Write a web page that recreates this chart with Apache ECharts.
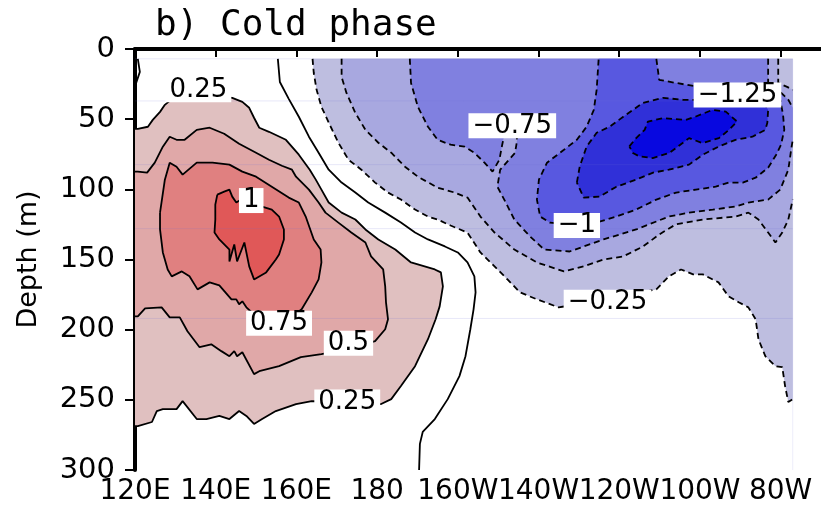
<!DOCTYPE html>
<html><head><meta charset="utf-8">
<script src="https://cdn.jsdelivr.net/npm/echarts@6/dist/echarts.min.js"></script>
<style>html,body{margin:0;padding:0;background:#fff}#c{width:821px;height:508px}</style>
</head><body><div id="c"></div>
<script>
// ---- axes ----
const lonTicks = [120,140,160,180,200,220,240,260,280];
const depthTicks = [0,50,100,150,200,250,300];
const titleText = 'b) Cold phase';
const yName = 'Depth (m)';
const dataTop = 7, dataRight = 283, dataBottom = 300;
const rowDepths = [7, 37, 82.4, 128, 192];

// ---- contours (lon in degrees east, depth in m) ----
const zeroA = [[155.4,7],[155.9,23.5],[158.1,35.5],[160.6,48.3],[163.1,62.5],[165.5,73.9],[168.0,86.0],[171.2,95.2],[174.6,102.3],[177.8,109.4],[182.0,116.6],[185.9,123.7],[189.4,130.8],[192.6,135.7],[196.8,140.7],[200.0,145.0],[202.4,152.1],[204.1,162.0],[204.4,173.4],[203.9,185.5],[203.1,199.7],[201.9,218.9],[200.4,233.1],[197.5,249.5],[194.3,263.7],[191.3,272.9],[190.6,281.4],[190.4,300]];
const zeroB = [[120.7,7],[121.2,16.3],[120.2,24.9],[120,26.3]];
const pos025 = [[120,56.9],[120.7,56.9],[123.2,55.4],[124.4,50.5],[126.2,44.8],[127.4,39.8],[128.6,37.0],[136.0,32.7],[144.1,34.8],[146.6,37.7],[148.3,41.9],[149.5,49.0],[150.8,56.1],[153.2,59.0],[157.4,64.7],[160.6,75.3],[163.3,86.0],[164.8,93.1],[166.2,100.2],[168.0,109.4],[171.2,116.6],[174.6,121.5],[177.1,128.6],[180.3,135.7],[184.5,142.9],[188.4,152.1],[194.3,157.1],[195.8,159.2],[196.3,169.1],[195.5,183.4],[194.5,192.6],[192.6,206.8],[189.4,226.0],[185.9,240.2],[183.5,249.5],[181.0,253.0],[172.9,251.6],[163.8,250.9],[159.9,253.0],[154.9,258.0],[151.5,263.7],[149.5,267.2],[147.6,261.5],[145.8,258.0],[143.4,263.7],[140.9,261.5],[137.7,263.7],[135.3,263.7],[131.8,250.9],[130.3,256.6],[126.9,256.6],[125.4,258.0],[124.2,265.8],[120.7,268.7],[120,268.7]];
const pos050 = [[120,87.4],[120.7,87.4],[123.0,88.1],[124.9,81.0],[126.9,69.6],[128.6,62.5],[130.3,64.7],[132.3,64.7],[135.3,57.6],[138.5,56.1],[142.1,60.4],[145.8,67.5],[150.0,73.9],[153.2,78.9],[156.4,83.2],[158.9,86.0],[159.9,91.0],[163.1,100.2],[165.5,109.4],[167.2,116.6],[170.4,123.7],[173.6,130.8],[177.1,137.9],[178.5,147.8],[181.5,157.1],[182.0,169.1],[182.2,180.5],[182.7,192.6],[182.0,199.7],[179.5,208.2],[172.9,213.9],[166.2,217.5],[161.1,219.6],[155.7,226.0],[150.8,229.6],[149.5,231.7],[146.6,216.1],[145.3,218.9],[144.6,215.3],[143.4,218.9],[141.4,215.3],[138.9,210.4],[136.0,212.5],[133.0,201.1],[131.1,191.2],[128.6,191.2],[126.6,184.1],[122.5,184.8],[120.7,190.5],[120,190.5]];
const pos075 = [[126.2,116.6],[127.4,93.1],[128.6,81.0],[130.3,83.9],[131.8,89.5],[135.3,81.0],[139.2,81.0],[143.4,82.4],[146.6,87.4],[150.0,91.0],[153.9,98.1],[158.1,105.9],[160.6,109.4],[162.3,119.4],[164.3,135.7],[166.0,142.9],[166.2,152.1],[165.5,164.2],[163.8,173.4],[161.3,185.5],[158.1,192.6],[150.8,192.6],[147.6,184.1],[146.6,179.8],[145.8,181.9],[145.1,178.4],[143.9,178.4],[140.9,168.4],[138.5,166.3],[135.5,171.3],[133.5,162.0],[131.6,158.5],[129.1,162.0],[128.1,157.1],[126.9,145.0],[126.2,128.6]];
const pos100 = [[140.4,103.8],[142.1,101.6],[143.4,100.2],[144.1,105.2],[145.1,109.4],[146.3,107.3],[148.8,109.4],[151.5,112.3],[153.9,114.4],[155.7,119.4],[156.9,128.6],[156.9,135.7],[155.7,146.4],[154.9,150.0],[152.5,159.2],[149.5,164.2],[148.3,154.9],[147.1,137.9],[145.3,151.4],[144.6,139.3],[143.4,151.4],[143.4,142.9],[140.9,135.7],[139.7,130.8],[139.9,121.5],[139.9,110.9]];
const neg025 = [[164.0,7],[164.3,17.1],[165.0,29.1],[166.2,41.2],[168.5,55.4],[170.4,66.8],[172.9,78.9],[176.1,86.0],[179.5,95.2],[182.7,102.3],[185.9,107.3],[189.4,114.4],[192.6,119.4],[195.0,121.5],[198.2,125.8],[202.4,130.8],[205.6,145.0],[209.1,154.9],[212.3,164.2],[215.4,173.4],[219.6,178.4],[225.0,184.1],[237.1,178.4],[249.2,171.3],[252.3,162.0],[255.3,157.1],[258.3,160.6],[260.7,160.6],[264.6,166.3],[267.1,176.3],[269.6,180.5],[272.0,184.1],[273.8,192.6],[274.5,206.8],[276.2,218.9],[278.7,226.0],[280.4,226.7],[281.1,240.2],[281.9,251.6],[283,249.5]];
const neg050 = [[171.2,7],[171.2,19.9],[172.4,31.3],[174.6,45.5],[177.1,57.6],[180.3,66.8],[183.5,73.9],[186.9,83.9],[190.1,91.0],[195.0,98.8],[199.2,102.3],[202.4,105.9],[205.6,119.4],[209.1,130.8],[214.0,142.9],[219.6,152.1],[226.3,158.5],[231.2,154.9],[236.1,150.0],[241.0,147.8],[245.9,140.7],[250.0,132.0],[254.0,125.0],[260.7,121.5],[268.8,119.4],[272.0,116.6],[274.5,121.5],[276.9,130.8],[278.7,137.9],[280.4,130.8],[281.9,121.5],[283,107.3]];
const neg050b = [[279.4,7],[279.4,24.2],[281.6,27.0],[283,29.1]];
const neg075 = [[188.1,7],[188.4,24.2],[190.1,41.2],[192.6,55.4],[195.0,64.7],[198.2,68.2],[201.7,69.6],[204.1,73.9],[206.6,81.0],[208.6,87.4],[210.3,78.9],[211.0,68.2],[211.8,57.6],[213.0,51.9],[214.2,57.6],[214.7,64.7],[214.2,73.9],[210.5,86.0],[209.8,98.1],[211.5,107.3],[214.0,121.5],[217.9,133.6],[221.4,142.9],[227.7,144.3],[236.1,135.7],[244.2,128.6],[252.3,119.4],[257.3,116.6],[263.2,114.4],[268.8,112.3],[272.0,109.4],[276.9,107.3],[279.9,100.2],[281.9,86.0],[282.6,71.8],[283,64.7]];
const neg075b = [[276.9,7],[276.9,24.2],[279.9,30.6],[281.9,36.2],[283,41.9]];
const neg100 = [[249.2,7],[249.9,22.0],[254.1,24.2],[259.7,27.0],[268.8,30.6],[279.9,36.2],[280.6,46.9],[280.9,57.6],[280.1,68.2],[278.9,75.3],[276.9,84.6],[273.8,91.7],[270.6,95.2],[267.1,95.2],[263.9,98.1],[259.0,100.2],[254.1,102.3],[249.2,107.3],[244.2,114.4],[239.3,119.4],[235.1,123.0],[229.5,125.8],[222.8,123.7],[220.4,119.4],[219.6,107.3],[220.1,93.1],[222.1,81.0],[226.3,71.8],[229.5,64.7],[231.9,55.4],[233.7,43.4],[234.4,29.1],[234.9,7]];
const neg125 = [[229.5,95.2],[230.2,83.9],[231.9,69.6],[234.4,59.7],[237.6,55.4],[241.0,48.3],[245.9,38.4],[250.9,34.8],[255.8,36.2],[263.9,36.2],[272.5,37.7],[276.2,39.8],[276.9,43.4],[276.7,52.6],[276.2,57.6],[273.0,62.5],[268.8,64.7],[264.6,69.6],[260.7,75.3],[257.3,82.4],[252.3,86.0],[248.4,88.1],[244.2,93.1],[239.3,98.1],[235.1,105.2],[231.2,105.9]];
const neg150 = [[242.5,69.4],[244.2,63.5],[246.3,57.6],[247.1,51.7],[250.8,49.3],[256.5,50.5],[259.0,48.1],[263.1,43.4],[266.4,44.6],[269.2,51.7],[267.2,57.6],[264.7,63.5],[260.6,67.0],[257.3,63.5],[255.7,67.0],[252.4,74.1],[248.3,77.7],[245.0,76.5],[243.4,74.1]];

// contour labels: [lon, depth, text]
const contourLabels = [
  [135.7,29.1,'0.25'],[148.8,108,'1'],[155.7,195.5,'0.75'],[172.9,209.7,'0.5'],[172.6,251.6,'0.25'],
  [213.5,54.7,'\u22120.75'],[269.3,32.7,'\u22121.25'],[229.5,125.8,'\u22121'],[237.1,180.5,'\u22120.25']
];

// ---- fills (outer to inner) ----
const fills = [
  {pts: pos025, color:'#e0c0c0'},
  {pts: pos050, color:'#e0a8a8'},
  {pts: pos075, color:'#e08080'},
  {pts: pos100, color:'#e05858'},
  {pts: neg025.concat([[dataRight,dataTop]]), color:'#bebee0'},
  {pts: neg050.concat(neg050b.slice().reverse()), color:'#a8a8e0'},
  {pts: neg075.concat(neg075b.slice().reverse()), color:'#8080e0'},
  {pts: neg100, color:'#5858e0'},
  {pts: neg125, color:'#3030d8'},
  {pts: neg150, color:'#0808e0'}
];
const closeLoop = a => a.concat([a[0]]);
const solidLines = [zeroA, zeroB, pos025, pos050, closeLoop(pos075), closeLoop(pos100)];
const dashedLines = [neg025, neg050, neg050b, neg075, neg075b, neg100, closeLoop(neg125), closeLoop(neg150)];

const FONT = "'DejaVu Sans', sans-serif";
const series = [];
fills.forEach((f, i) => {
  series.push({
    type:'custom', coordinateSystem:'cartesian2d', silent:true, z:1 + i*0.01,
    data:[[200,150]],
    renderItem: (params, api) => ({
      type:'polygon',
      shape:{ points: f.pts.map(p => api.coord(p)) },
      style:{ fill: f.color, stroke: null, lineWidth: 0 }
    })
  });
});
rowDepths.forEach(d => {
  series.push({ type:'line', data:[[120,d],[dataRight,d]], symbol:'none', silent:true, z:2,
    lineStyle:{ color:'rgba(110,110,210,0.16)', width:1 } });
});
series.push({ type:'line', data:[[dataRight,dataTop],[dataRight,dataBottom]], symbol:'none', silent:true, z:2,
  lineStyle:{ color:'rgba(110,110,210,0.12)', width:1 } });
solidLines.forEach(l => series.push({ type:'line', data:l, symbol:'none', silent:true, z:3,
  lineStyle:{ color:'#000', width:1.8, type:'solid' } }));
dashedLines.forEach(l => series.push({ type:'line', data:l, symbol:'none', silent:true, z:3,
  lineStyle:{ color:'#000', width:1.8, type:[6,4] } }));
series.push({
  type:'scatter', symbolSize:0, silent:true, z:5,
  itemStyle:{ opacity:1 },
  data: contourLabels.map(d => ({ value:[d[0], d[1]], name:d[2] })),
  label:{ show:true, position:'inside', formatter: p => p.name, color:'#000', opacity:1, fontFamily:FONT, fontSize:26,
    backgroundColor:'#ffffff', padding:[1,4,0,4], lineHeight:24 }
});

const lonFmt = v => v === 180 ? '180' : (v < 180 ? v + 'E' : (v < 290 ? (360 - v) + 'W' : ''));

const chart = echarts.init(document.getElementById('c'), null, {renderer:'canvas'});
chart.setOption({
  animation:false,
  backgroundColor:'#fff',
  title:{ text:titleText, left:150, top:3, textStyle:{ fontFamily:"'DejaVu Sans Mono', monospace", fontSize:36, fontWeight:'normal', color:'#000' } },
  grid:{ left:135, top:49, bottom:38, width:691 },
  xAxis:[
    { type:'value', position:'bottom', min:120, max:290, interval:20,
      axisLine:{ show:true, lineStyle:{ color:'#000', width:3 } },
      axisTick:{ show:true, length:8, lineStyle:{ color:'#000', width:2 }, customValues: lonTicks },
      axisLabel:{ show:true, formatter:lonFmt, color:'#000', fontFamily:FONT, fontSize:28, margin:8, customValues: lonTicks },
      splitLine:{ show:false } },
    { type:'value', position:'top', min:120, max:290,
      axisLine:{ show:true, onZero:false, lineStyle:{ color:'#000', width:4 } },
      axisTick:{ show:false }, axisLabel:{ show:false }, splitLine:{ show:false } }
  ],
  yAxis:{ type:'value', inverse:true, min:0, max:300, interval:50,
    name:yName, nameLocation:'middle', nameGap:93, nameRotate:90,
    nameTextStyle:{ fontFamily:FONT, fontSize:27, color:'#000' },
    axisLine:{ show:true, lineStyle:{ color:'#000', width:4 } },
    axisTick:{ show:true, length:10, lineStyle:{ color:'#000', width:2 } },
    axisLabel:{ color:'#000', fontFamily:FONT, fontSize:29, margin:20 },
    splitLine:{ show:false } },
  series: series
});
</script>
</body></html>
